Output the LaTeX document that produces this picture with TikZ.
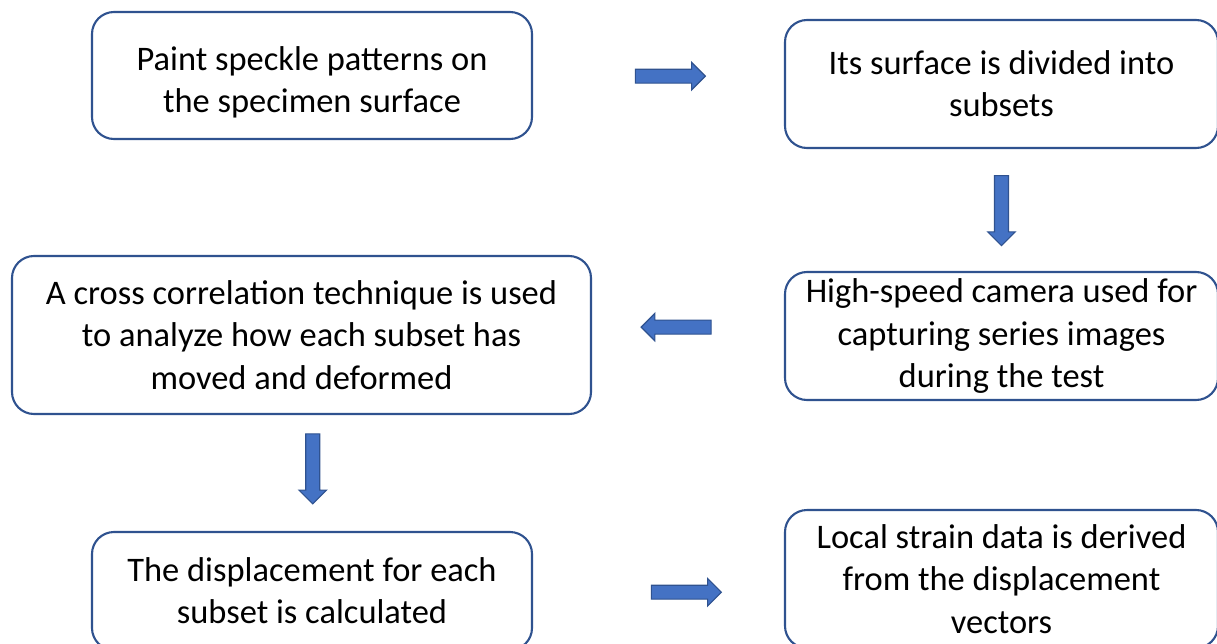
\documentclass[tikz,border=0pt]{standalone}
\usepackage{fontspec}
\setmainfont{Carlito}
\usetikzlibrary{shapes.arrows,calc}
\definecolor{boxline}{RGB}{47,82,143}
\definecolor{arrowfill}{RGB}{68,114,196}
\tikzset{
    stepbox/.style={draw=boxline, line width=1.5pt, rounded corners=0.55cm, fill=white,
        align=center, inner sep=0pt, font=\fontsize{24.5pt}{30pt}\selectfont},
    blockarrow/.style={single arrow, draw=boxline, fill=arrowfill, line width=0.8pt,
        minimum height=1.75cm, inner sep=0.16cm,
        single arrow head extend=0.17cm}
}

\begin{document}
\begin{tikzpicture}
    \useasboundingbox (0,0) rectangle (30.425,-16.075);

    % Steps
    \node[stepbox, minimum width=11cm, minimum height=3.175cm] (paint) at (7.8,-1.8875)
        {\rule{0pt}{0.95cm}Paint speckle patterns on\\the specimen surface};
    \node[stepbox, minimum width=10.825cm, minimum height=3.2cm] (divide) at (25.0375,-2.1)
        {Its surface is divided into\\subsets};
    \node[stepbox, minimum width=10.825cm, minimum height=3.2cm] (camera) at (25.0375,-8.4)
        {High-speed camera used for\\capturing series images\\during the test};
    \node[stepbox, minimum width=14.475cm, minimum height=3.95cm] (correlate) at (7.5375,-8.375)
        {A cross correlation technique is used\\to analyze how each subset has\\moved and deformed};
    \node[stepbox, minimum width=11cm, minimum height=2.95cm] (displace) at (7.8,-14.775)
        {The displacement for each\\subset is calculated};
    \node[stepbox, minimum width=10.825cm, minimum height=3.45cm] (strain) at (25.0375,-14.475)
        {Local strain data is derived\\from the displacement\\vectors};

    % Block arrows between steps
    \node[blockarrow, xshift=0.21cm, yshift=0.09cm] (a1)
        at ($(paint.east)!0.5!(divide.west)$) {};
    \node[blockarrow, shape border rotate=270, yshift=0.07cm] (a2)
        at ($(divide.south)!0.5!(camera.north)$) {};
    \node[blockarrow, shape border rotate=180, xshift=-0.21cm, yshift=0.21cm] (a3)
        at ($(camera.west)!0.5!(correlate.east)$) {};
    \node[blockarrow, shape border rotate=270, xshift=0.15cm, yshift=0.19cm] (a4)
        at ($(correlate.south)!0.5!(displace.north)$) {};
    \node[blockarrow, xshift=0.61cm, yshift=-0.18cm] (a5)
        at ($(displace.east)!0.5!(strain.west)$) {};
\end{tikzpicture}
\end{document}
